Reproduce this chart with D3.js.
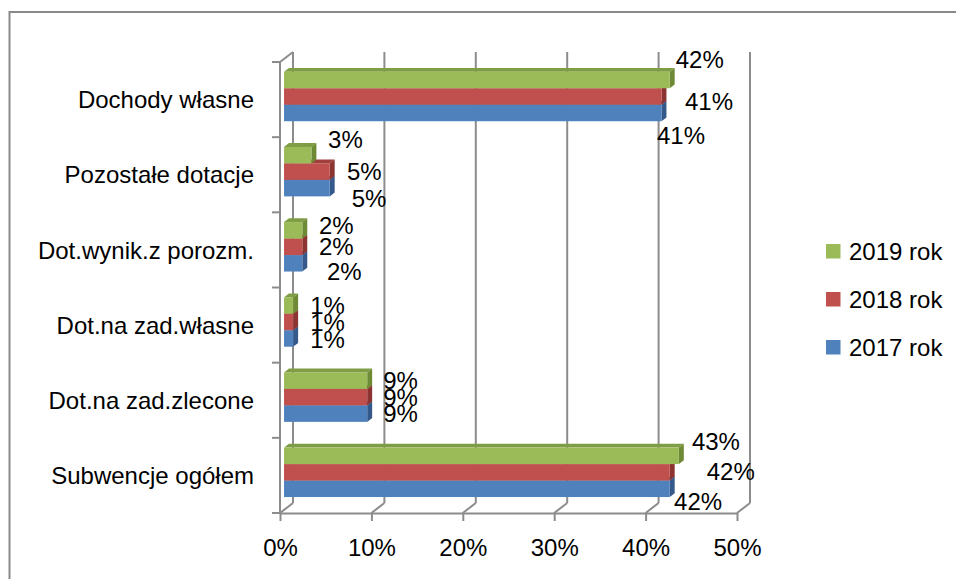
<!DOCTYPE html>
<html>
<head>
<meta charset="utf-8">
<script src="https://cdn.jsdelivr.net/npm/d3@7"></script>
<style>
  html, body { margin: 0; padding: 0; background: #fff; }
  svg { display: block; }
  text { font-family: "Liberation Sans", Arial, sans-serif; fill: #000; }
</style>
</head>
<body>
<script>
// ---------------- DATA ----------------
const categories = ["Dochody własne", "Pozostałe dotacje", "Dot.wynik.z porozm.", "Dot.na zad.własne", "Dot.na zad.zlecone", "Subwencje ogółem"];
const series = ["2019 rok", "2018 rok", "2017 rok"];
const values2019 = [42.2, 3.0, 2.0, 1.0, 9.1, 43.2];
const values2018 = [41.3, 5.0, 2.0, 1.0, 9.1, 42.2];
const values2017 = [41.3, 5.0, 2.0, 1.0, 9.1, 42.2];
const valueTicks = [0, 10, 20, 30, 40, 50];

// ---------------- LAYOUT / STYLE ----------------
const W = 956, H = 579;
const fontSize = 24;
const capHalf = fontSize * 0.358;
const colors = {
  "2019 rok": { front: "#9BBB59", top: "#7F9D44", side: "#6E8A35" },
  "2018 rok": { front: "#C0504D", top: "#A03F3C", side: "#8C3431" },
  "2017 rok": { front: "#4F81BD", top: "#3E6A9F", side: "#34598A" }
};
const gridColor = "#8C8C8C";
// Excel-style label nudges [dx, dy] per category, per series (2019, 2018, 2017)
const labelNudge = [
  [[6, -21], [23.5, 5], [-4.5, 22.6]],
  [[16.6, -15.6], [17.3, 0], [22, 10]],
  [[16.7, -5], [16.7, 0], [24.7, 8]],
  [[17, 0], [17, 0], [17, 1]],
  [[16, 0], [16, 0], [16, 0]],
  [[13, -14.3], [37, -0.8], [4.3, 12.2]]
];

const valuesBySeries = { "2019 rok": values2019, "2018 rok": values2018, "2017 rok": values2017 };

const svg = d3.select("body").append("svg").attr("width", W).attr("height", H);
svg.append("rect").attr("width", W).attr("height", H).attr("fill", "#fff");

// outer border (chart area frame, extends past the right/bottom edge)
svg.append("rect").attr("x", 9.5).attr("y", 12).attr("width", 1200).attr("height", 800)
  .attr("fill", "none").attr("stroke", "#898989").attr("stroke-width", 2);

const plotTop = 62, plotBottom = 513;
const x = d3.scaleLinear().domain([0, 50]).range([280, 737]);
const y = d3.scaleBand().domain(categories).range([plotTop, plotBottom]).paddingInner(0).paddingOuter(0);
const ys = d3.scaleBand().domain(series).range([0, y.bandwidth()]).paddingInner(0).paddingOuter(0.78);

// depth (oblique projection)
const DX = 13, DY = -10, f1 = 0.31, f2 = 0.69;

const g = svg.append("g");

// back wall gridlines
g.selectAll("line.back").data(valueTicks).join("line")
  .attr("x1", d => x(d) + DX).attr("x2", d => x(d) + DX)
  .attr("y1", plotBottom + DY).attr("y2", plotTop + DY)
  .attr("stroke", gridColor).attr("stroke-width", 2);

// floor depth lines
g.selectAll("line.floor").data(valueTicks).join("line")
  .attr("x1", d => x(d)).attr("x2", d => x(d) + DX)
  .attr("y1", plotBottom).attr("y2", plotBottom + DY)
  .attr("stroke", gridColor).attr("stroke-width", 2);

// left wall top edge
g.append("line").attr("x1", x(0)).attr("y1", plotTop).attr("x2", x(0) + DX).attr("y2", plotTop + DY)
  .attr("stroke", gridColor).attr("stroke-width", 2);

// front category axis line
g.append("line").attr("x1", x(0)).attr("x2", x(0)).attr("y1", plotTop).attr("y2", plotBottom)
  .attr("stroke", gridColor).attr("stroke-width", 2);

// category boundary ticks
const boundaries = categories.map(c => y(c)).concat([plotBottom]);
g.selectAll("line.ctick").data(boundaries).join("line")
  .attr("x1", x(0) - 8).attr("x2", x(0)).attr("y1", d => d).attr("y2", d => d)
  .attr("stroke", gridColor).attr("stroke-width", 2);

// bottom value axis
const xAxis = d3.axisBottom(x).tickValues(valueTicks).tickFormat(d => d + "%")
  .tickSize(8).tickSizeOuter(0).tickPadding(18);
const xa = svg.append("g").attr("transform", `translate(0,${plotBottom})`).call(xAxis);
xa.select(".domain").attr("stroke", gridColor).attr("stroke-width", 2);
xa.selectAll(".tick line").attr("stroke", gridColor).attr("stroke-width", 2);
xa.selectAll(".tick text").attr("font-size", fontSize).attr("font-family", "Liberation Sans, Arial, sans-serif").attr("fill", "#000");

// left category axis labels
const yAxis = d3.axisLeft(y).tickSize(0).tickPadding(26);
const ya = svg.append("g").attr("transform", `translate(${x(0)},0)`).call(yAxis);
ya.select(".domain").remove();
ya.selectAll(".tick text").attr("font-size", fontSize).attr("dy", null)
  .attr("y", capHalf).attr("font-family", "Liberation Sans, Arial, sans-serif").attr("fill", "#000");

// bars (3D boxes)
const ddx = DX * (f2 - f1), ddy = DY * (f2 - f1);
const drawOrder = ["2017 rok", "2018 rok", "2019 rok"];
const barsG = svg.append("g");
categories.forEach((cat, ci) => {
  drawOrder.forEach(s => {
    const v = valuesBySeries[s][ci];
    const x0 = x(0) + DX * f1, x1 = x(v) + DX * f1;
    const yt = y(cat) + ys(s) + DY * f1, yb = yt + ys.bandwidth();
    const c = colors[s];
    const bg = barsG.append("g");
    bg.append("polygon")
      .attr("points", [[x0, yt], [x1, yt], [x1 + ddx, yt + ddy], [x0 + ddx, yt + ddy]].map(p => p.join(",")).join(" "))
      .attr("fill", c.top);
    bg.append("polygon")
      .attr("points", [[x1, yt], [x1 + ddx, yt + ddy], [x1 + ddx, yb + ddy], [x1, yb]].map(p => p.join(",")).join(" "))
      .attr("fill", c.side);
    bg.append("rect").attr("x", x0).attr("y", yt).attr("width", x1 - x0).attr("height", yb - yt)
      .attr("fill", c.front);
  });
});

// value labels
const labG = svg.append("g");
categories.forEach((cat, ci) => {
  series.forEach((s, si) => {
    const v = valuesBySeries[s][ci];
    const xEnd = x(v) + DX * f1;
    const yc = y(cat) + ys(s) + DY * f1 + ys.bandwidth() / 2;
    const [ndx, ndy] = labelNudge[ci][si];
    labG.append("text")
      .attr("x", xEnd + ndx)
      .attr("y", yc + ndy + capHalf)
      .attr("font-size", fontSize)
      .text(Math.round(v) + "%");
  });
});

// legend
const legendY = d3.scalePoint().domain(series).range([244, 340]);
const lg = svg.append("g");
series.forEach(s => {
  lg.append("rect").attr("x", 826).attr("y", legendY(s)).attr("width", 14.5).attr("height", 14.5)
    .attr("fill", colors[s].front);
  lg.append("text").attr("x", 849).attr("y", legendY(s) + 7.25 + capHalf)
    .attr("font-size", fontSize).text(s);
});
</script>
</body>
</html>
